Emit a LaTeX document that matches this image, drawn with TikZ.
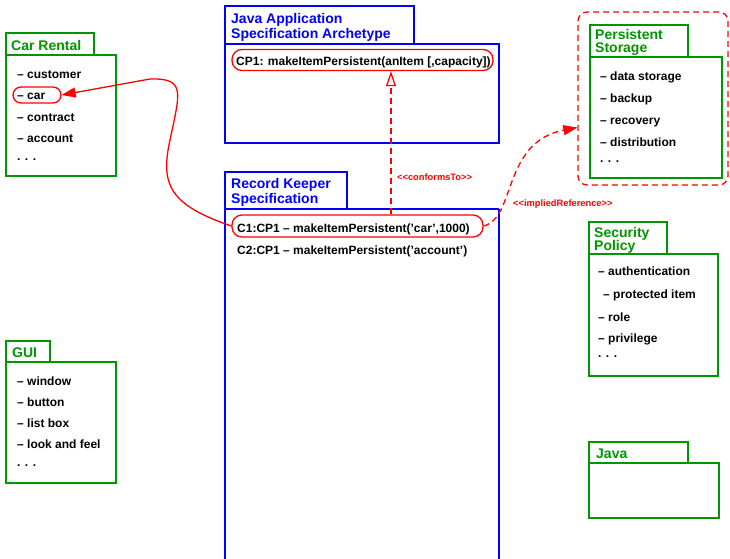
\documentclass[tikz,border=0pt]{standalone}
\usepackage{fontspec}
\setmainfont{Liberation Sans}
\usetikzlibrary{arrows.meta}
\definecolor{pkggreen}{RGB}{0,150,0}
\definecolor{pkgblue}{RGB}{0,0,255}
\definecolor{linkred}{RGB}{255,0,0}
\tikzset{
  greenbox/.style={draw=pkggreen, line width=1.3pt},
  bluebox/.style={draw=pkgblue, line width=1.3pt},
  entry/.style={anchor=base west, inner sep=0pt, font=\bfseries\fontsize{12}{14}\selectfont},
  gtitle/.style={anchor=base west, inner sep=0pt, text=pkggreen, font=\bfseries\fontsize{14}{14}\selectfont},
  btitle/.style={anchor=base west, inner sep=0pt, text=pkgblue, font=\bfseries\fontsize{14}{14}\selectfont},
  stereo/.style={anchor=base west, inner sep=0pt, text=linkred, font=\bfseries\fontsize{9.3}{10}\selectfont},
  oval/.style={draw=linkred, line width=1.3pt, rounded corners=8pt, inner sep=0pt},
  redlink/.style={draw=linkred, line width=1.3pt},
  reddash/.style={draw=linkred, line width=1.3pt, dash pattern=on 6pt off 4pt},
}
\begin{document}
\begin{tikzpicture}[x=1pt, y=-1pt]
\useasboundingbox (0,0) rectangle (730,558);

% ---- Car Rental package
\draw[greenbox] (6,33) rectangle (94,55);
\draw[greenbox] (6,55) rectangle (116,176);
\node[gtitle] (crt) at (11,50) {Car Rental};
\node[entry] (cr1) at (17,78) {– customer};
\node[entry] (cr2) at (17,99) {– car};
\node[entry] (cr3) at (17,121) {– contract};
\node[entry] (cr4) at (17,142) {– account};
\node[entry] (cr5) at (17,160) {. . .};
\node[oval, minimum width=48pt, minimum height=16pt] (carov) at (37,95) {};

% ---- GUI package
\draw[greenbox] (6,341) rectangle (50,362);
\draw[greenbox] (6,362) rectangle (116,483);
\node[gtitle] (guit) at (12,357) {GUI};
\node[entry] (gu1) at (17,385) {– window};
\node[entry] (gu2) at (17,406) {– button};
\node[entry] (gu3) at (17,427) {– list box};
\node[entry] (gu4) at (17,448) {– look and feel};
\node[entry] (gu5) at (17,466) {. . .};

% ---- Java Application Specification Archetype
\draw[bluebox] (225,6) rectangle (414,44);
\draw[bluebox] (225,44) rectangle (499,143);
\node[btitle] (jat1) at (231,23) {Java Application};
\node[btitle] (jat2) at (231,38) {Specification Archetype};
\node[oval, minimum width=261pt, minimum height=21pt, rounded corners=10pt] (cp1ov) at (362.5,60) {};
\node[entry] (cp1) at (236,65) {CP1: makeItemPersistent(anItem [,capacity])};

% ---- Record Keeper Specification
\draw[bluebox] (225,172) rectangle (347,209);
\draw[bluebox] (225,209) -- (225,560) (499,209) -- (499,560) (225,209) -- (499,209);
\node[btitle] (rkt1) at (231,188) {Record Keeper};
\node[btitle] (rkt2) at (231,203) {Specification};
\node[oval, minimum width=251pt, minimum height=22pt, rounded corners=10pt] (c1ov) at (357.5,226) {};
\node[entry] (c1) at (237,232) {C1:CP1 – makeItemPersistent('car',1000)};
\node[entry] (c2) at (237,254) {C2:CP1 – makeItemPersistent('account')};

% ---- Persistent Storage package inside its dashed region
\node[reddash, rounded corners=9pt, minimum width=150pt, minimum height=173pt, inner sep=0pt] (psreg) at (653,98.5) {};
\draw[greenbox] (590,25) rectangle (688,57);
\draw[greenbox] (590,57) rectangle (722,178);
\node[gtitle] (pst1) at (595,39) {Persistent};
\node[gtitle] (pst2) at (595,52) {Storage};
\node[entry] (ps1) at (600,80) {– data storage};
\node[entry] (ps2) at (600,102) {– backup};
\node[entry] (ps3) at (600,124) {– recovery};
\node[entry] (ps4) at (600,146) {– distribution};
\node[entry] (ps5) at (600,162) {. . .};

% ---- Security Policy package
\draw[greenbox] (589,222) rectangle (667,254);
\draw[greenbox] (589,254) rectangle (718,376);
\node[gtitle] (spt1) at (594,237) {Security};
\node[gtitle] (spt2) at (594,250) {Policy};
\node[entry] (sp1) at (598,275) {– authentication};
\node[entry] (sp2) at (603,298) {– protected item};
\node[entry] (sp3) at (598,321) {– role};
\node[entry] (sp4) at (598,342) {– privilege};
\node[entry] (sp5) at (598,357) {. . .};

% ---- Java package
\draw[greenbox] (589,442) rectangle (688,463);
\draw[greenbox] (589,463) rectangle (719,518);
\node[gtitle] (jvt) at (596,458) {Java};

% ---- relationships
\draw[reddash, -{Triangle[open, length=15pt, width=10pt, line width=1.3pt]}]
  (c1ov.north -| 391,0) -- (cp1ov.south -| 391,0);
\node[stereo] (conf) at (397,180) {<{}<conformsTo>{}>};

\draw[reddash, -{Triangle[length=14pt, width=10pt]}]
  (c1ov.east) .. controls (516,218) and (502,142) .. (psreg.201.5);
\node[stereo] (impl) at (513,206) {<{}<impliedReference>{}>};

\draw[redlink, -{Triangle[length=14pt, width=10pt]}]
  (c1ov.west) .. controls (170,205) and (160,185) .. (170,140)
  .. controls (180,92) and (186,78) .. (150,79) -- (carov.east);
\end{tikzpicture}
\end{document}
